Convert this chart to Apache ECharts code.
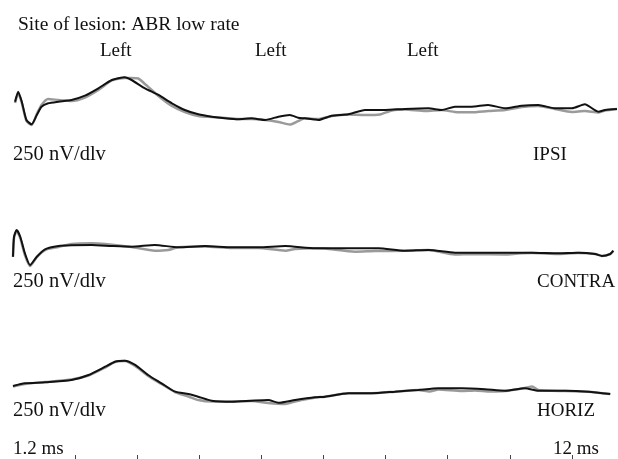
<!DOCTYPE html>
<html>
<head>
<meta charset="utf-8">
<script src="https://cdn.jsdelivr.net/npm/echarts@6/dist/echarts.min.js"></script>
<style>
html,body{margin:0;padding:0;background:#fff;}
#chart{width:618px;height:459px;}
</style>
</head>
<body>
<div id="chart"></div>
<script>
// time in ms (1.2 ms / div), amplitude in nV relative to baseline
var ipsiTimeA = [0.04,0.10,0.17,0.26,0.36,0.46,0.55,0.68,0.88,1.13,1.39,1.65,1.91,2.16,2.29,2.55,2.81,3.07,3.32,3.58,3.84,4.10,4.35,4.61,4.87,5.13,5.35,5.51,5.64,5.90,6.16,6.48,6.80,7.19,7.57,8.03,8.28,8.54,8.86,9.18,9.51,9.83,10.15,10.47,10.80,11.05,11.31,11.44,11.67];
var ipsiA = [104,229,104,-125,-179,-63,41,84,104,125,179,271,375,409,375,271,188,84,0,-54,-84,-104,-116,-104,-125,-84,-63,-96,-104,-125,-71,-54,0,0,13,21,0,41,41,63,21,54,63,21,21,71,-21,0,13];
var ipsiTimeB = [0.04,0.10,0.17,0.26,0.36,0.46,0.55,0.68,0.88,1.13,1.39,1.65,1.91,2.16,2.29,2.42,2.55,2.81,3.07,3.32,3.58,3.84,4.10,4.35,4.61,4.87,5.13,5.35,5.51,5.64,5.90,6.16,6.48,6.80,7.09,7.32,7.57,7.97,8.28,8.54,8.86,9.18,9.51,9.83,10.15,10.47,10.80,11.05,11.31,11.44,11.67];
var ipsiB = [88,213,88,-138,-188,-50,63,138,125,113,156,250,369,400,400,394,325,175,50,-25,-75,-88,-100,-113,-113,-125,-150,-181,-138,-104,-113,-75,-56,-63,-56,-6,6,-13,0,-25,-29,-13,0,38,50,13,-25,-13,-31,-6,13];

var contraTimeA = [0.00,0.02,0.07,0.14,0.23,0.33,0.46,0.62,0.88,1.13,1.52,1.91,2.29,2.74,3.19,3.71,4.23,4.74,5.26,5.84,6.03,6.61,7.06,7.57,8.03,8.54,9.06,9.51,10.02,10.54,10.92,11.25,11.38,11.54,11.60];
var contraA = [-84,166,250,166,-41,-188,-84,9,50,59,63,50,41,63,34,50,34,34,50,21,21,21,21,-9,0,-34,-34,-34,-34,-41,-34,-50,-75,-50,-9];
var contraTimeB = [0.00,0.02,0.07,0.14,0.23,0.33,0.46,0.62,0.88,1.13,1.52,1.78,2.29,2.74,3.00,3.19,3.71,4.23,4.74,5.26,5.45,5.84,6.03,6.61,7.00,7.57,8.03,8.54,8.87,9.51,9.76,10.02,10.54,10.92,11.25,11.38,11.54,11.60];
var contraB = [-88,150,238,150,-63,-200,-88,0,38,75,84,75,38,-9,0,34,44,25,25,-9,13,21,19,-21,-13,-9,0,-56,-50,-56,-44,-38,-50,-38,-50,-75,-50,-13];

var horizTimeA = [0.00,0.23,0.62,1.13,1.46,1.78,1.97,2.16,2.36,2.61,2.87,3.13,3.39,3.58,3.84,4.23,4.61,4.93,5.13,5.45,5.84,6.03,6.48,6.93,7.38,7.83,8.22,8.67,9.12,9.51,9.89,10.15,10.67,11.12,11.54];
var horizA = [50,84,96,125,188,291,354,366,313,188,84,-21,-50,-84,-134,-146,-134,-125,-159,-125,-91,-84,-41,-41,-21,0,21,21,9,-9,21,-9,-9,-21,-50];
var horizTimeB = [0.00,0.23,0.62,1.13,1.46,1.78,1.97,2.16,2.36,2.61,2.87,3.13,3.39,3.58,3.84,4.23,4.61,4.93,5.26,5.45,5.84,6.03,6.48,6.93,7.38,7.83,8.05,8.22,8.67,8.93,9.22,9.51,9.89,10.03,10.15,10.67,11.12,11.54];
var horizB = [44,75,100,131,181,281,350,363,300,175,75,-25,-81,-125,-144,-144,-138,-163,-175,-144,-94,-84,-41,-41,-21,0,-19,6,-13,-6,-19,-13,25,44,0,-13,-21,-50];

var tickValues = [1.2,2.4,3.6,4.8,6.0,7.2,8.4,9.6,10.8];
var panelNames = ['IPSI','CONTRA','HORIZ'];
var sideLabels = ['Left','Left','Left'];
var scaleLabel = '250 nV/dlv';

function pairs(t, v){
	var out = [];
	for(var i=0;i<t.length;i++){
		out.push([t[i], v[i]]);
	}
	return out;
}

var serif = "'Liberation Serif', 'DejaVu Serif', serif";
var grayColor = '#9a9a9a';
var blackColor = '#111';

var myChart = echarts.init(document.getElementById('chart'));

// visible window is 0 .. 11.69 ms (the 12 ms edge falls just past the page)
var grids = [
	{left:13, right:0, top:70, height:60},
	{left:13, right:0, top:220, height:50},
	{left:13, right:0, top:350, height:60},
	{left:13, right:0, top:440, height:15}
];
var xAxes = [];
var yAxes = [];
var yRanges = [[-250,500],[-250,375],[-250,500],[0,1]];
for(var g=0;g<4;g++){
	xAxes.push({
		gridIndex:g, type:'value', min:0, max:11.69, interval:1.2,
		axisLine:{show:false}, splitLine:{show:false}, axisLabel:{show:false},
		axisTick: g==3 ? {show:true, length:4, customValues:tickValues, lineStyle:{color:'#444', width:1}} : {show:false}
	});
	yAxes.push({
		gridIndex:g, type:'value', min:yRanges[g][0], max:yRanges[g][1],
		show:false
	});
}

function trace(idx, data, color, width){
	return {
		type:'line', xAxisIndex:idx, yAxisIndex:idx, data:data,
		showSymbol:false, symbol:'none', smooth:0.2, clip:false, silent:true,
		lineStyle:{color:color, width:width}, z: color==blackColor ? 3 : 2
	};
}

function label(x, y, s, size){
	return {type:'text', x:x, y:y, style:{text:s, font:size+'px '+serif, fill:'#111', verticalAlign:'middle'}};
}

var texts = [label(18, 25, 'Site of lesion: ABR low rate', 19.5)];
var leftX = [100, 255, 407];
for(var i=0;i<sideLabels.length;i++){
	texts.push(label(leftX[i], 51, sideLabels[i], 19));
}
var rowY = [155, 282, 411];
var nameX = [533, 537, 537];
for(var i=0;i<panelNames.length;i++){
	texts.push(label(13, rowY[i], scaleLabel, 20.5));
	texts.push(label(nameX[i], rowY[i], panelNames[i], 19));
}
texts.push(label(13, 449, '1.2 ms', 19));
texts.push(label(553, 449, '12 ms', 19));

var option = {
	animation:false,
	backgroundColor:'#fff',
	grid:grids,
	xAxis:xAxes,
	yAxis:yAxes,
	graphic:texts,
	series:[
		trace(0, pairs(ipsiTimeB, ipsiB), grayColor, 2.5),
		trace(0, pairs(ipsiTimeA, ipsiA), blackColor, 2),
		trace(1, pairs(contraTimeB, contraB), grayColor, 2.5),
		trace(1, pairs(contraTimeA, contraA), blackColor, 2),
		trace(2, pairs(horizTimeB, horizB), grayColor, 2.5),
		trace(2, pairs(horizTimeA, horizA), blackColor, 2)
	]
};
myChart.setOption(option);
</script>
</body>
</html>
